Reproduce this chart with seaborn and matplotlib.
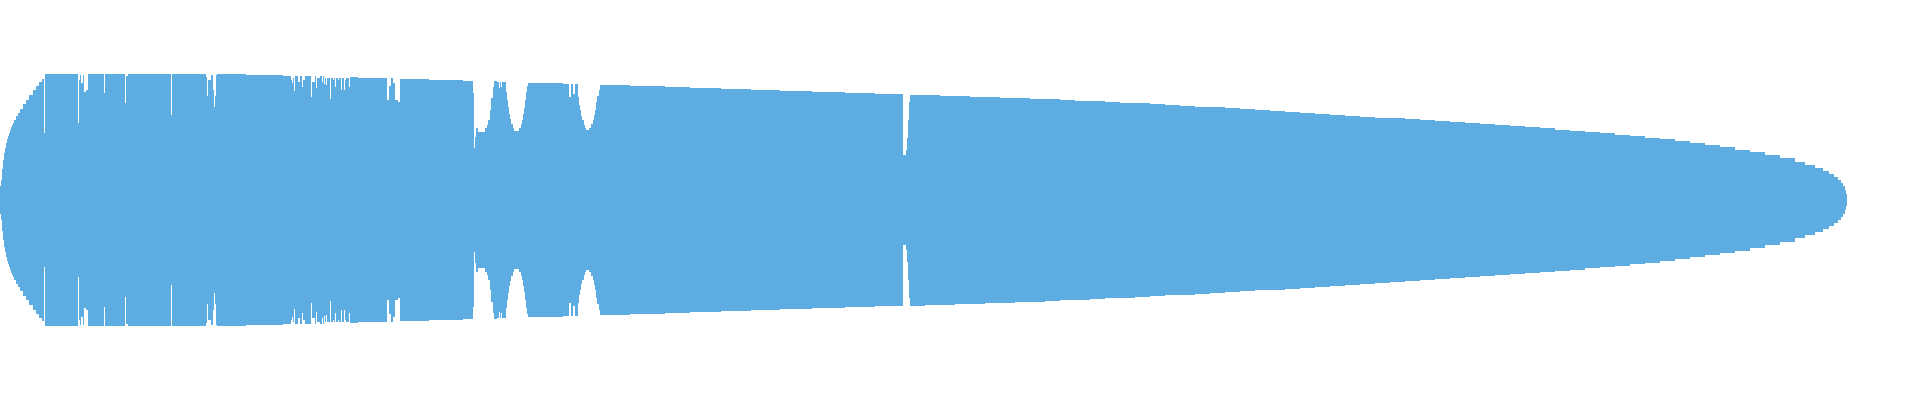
import numpy as np
import matplotlib
matplotlib.use('Agg')
import matplotlib.pyplot as plt
import seaborn as sns

# waveform peak envelope: each x is where a new peak level starts (step post)
# level 126 = full scale, drawn symmetric around 0

# attack (rounded start)
attack_x = [0, 1, 2, 3, 4, 5, 6, 7, 8, 9, 10, 11, 12, 13, 14, 16, 18, 20, 23, 26,
            29, 33, 36, 39, 42, 44]
attack_amp = [14, 20, 31, 40, 47, 52, 57, 61, 64, 67, 70, 73, 75, 77, 80, 84, 87, 91, 96, 100,
              105, 110, 114, 118, 121, 67]

# loud body with clipping dropouts
body_x = [45, 78, 79, 80, 81, 83, 83.5, 86, 87.5, 104, 105, 125, 126, 128, 171, 172,
          206, 207, 208, 211, 212.5, 213.5, 214.7, 216, 217, 246, 283, 291, 292, 293,
          294, 295, 298, 300, 302, 303, 305, 311, 312, 315, 316, 317, 320, 322, 323,
          324, 325, 326, 327, 330, 331, 333, 334, 335, 336, 338, 339, 341, 342, 344,
          345, 346, 349, 350, 358, 387, 389, 391, 393, 395, 398, 400, 429, 463, 473,
          474, 475, 476, 478, 485, 486.5, 488, 489.5, 491, 492.5, 494, 497, 499, 500,
          501, 502]
body_amp = [126, 77, 120, 125, 117, 125, 108, 110, 126, 107, 126, 97, 124, 126, 85, 126,
            123, 104, 120, 125, 110, 93, 104, 125, 126, 125, 124, 120, 117, 122,
            109, 124, 118, 124, 113, 120, 124, 103, 118, 124, 112, 122, 124, 118, 124,
            116, 122, 115, 122, 101, 122, 120, 122, 113, 122, 120, 122, 110, 122, 110,
            120, 122, 113, 123, 122, 100, 114, 122, 117, 100, 98, 121, 120, 119, 107,
            52, 63, 72, 68, 72, 75, 80, 90, 102, 113, 119, 118, 112, 118,
            113, 118]

# ripple section and slow decay
ripple_x = [505.5, 506.5, 507.5, 508.5, 509.5, 511, 512.5, 514, 519, 520.5, 521.5, 522.5,
            523.5, 524.5, 525.5, 526.5, 528, 563, 569, 570.5, 573, 574.5, 578, 579, 580,
            581, 582, 583.5, 585, 586, 589, 591, 592.5, 594, 595, 596, 597, 598.5, 600,
            630, 665, 690, 721, 751, 780, 812, 845, 875, 903, 906, 907, 908, 909, 910]
ripple_amp = [108, 100, 93, 86, 81, 76, 72, 69, 72, 76, 80, 86,
              92, 100, 108, 114, 117, 116, 103, 116, 106, 116, 103, 95, 90,
              84, 80, 75, 72, 70, 72, 76, 80, 85, 90, 98, 104, 110, 115,
              114, 113, 112, 111, 110, 109, 108, 107, 106, 45, 50, 62, 80, 98, 105.5]

# fade-out tail
tail_x = [925, 940, 955, 970, 985, 1000, 1015, 1030, 1045, 1060, 1075, 1090, 1105, 1120,
          1135, 1150, 1165, 1180, 1195, 1210, 1225, 1240, 1255, 1270, 1285, 1300, 1315,
          1330, 1345, 1360, 1375, 1390, 1405, 1420, 1435, 1450, 1465, 1480, 1495, 1510,
          1525, 1540, 1555, 1570, 1585, 1600, 1615, 1630, 1645, 1660, 1675, 1690, 1705,
          1720, 1735, 1750, 1765, 1780, 1795, 1805, 1815, 1823, 1829, 1834, 1838, 1841,
          1843, 1845, 1846, 1847]
tail_amp = [105, 104.5, 104, 103.5, 103, 102.5, 102, 101.5, 101, 100, 99.5, 99, 98, 97.5,
            97, 96, 95, 94.5, 93.5, 93, 92, 91, 90, 89.5, 88.5, 87.5, 86.5,
            85.5, 84.5, 83.5, 82.5, 82, 81, 80, 79, 78, 77, 76, 75, 74,
            73, 72, 70.5, 69.5, 68, 67, 65.5, 64, 62.5, 61, 59, 57, 55,
            53, 50.5, 48, 45, 42, 38, 35, 32, 29, 26, 23, 20, 17,
            14, 10, 6, 0]

wave_color = '#5DADE2'

sns.set_theme(style='white')

x = np.array(attack_x + body_x + ripple_x + tail_x, dtype=float)
amp = np.array(attack_amp + body_amp + ripple_amp + tail_amp, dtype=float)

fig = plt.figure(figsize=(19.2, 4), dpi=100)
ax = fig.add_axes([0, 0, 1, 1])
ax.fill_between(x, -amp, amp, step='post', color=wave_color, linewidth=0)
ax.set_xlim(0, 1920)
ax.set_ylim(-200, 200)
ax.axis('off')
fig.savefig('out.png', dpi=100, facecolor='white')
plt.close()
